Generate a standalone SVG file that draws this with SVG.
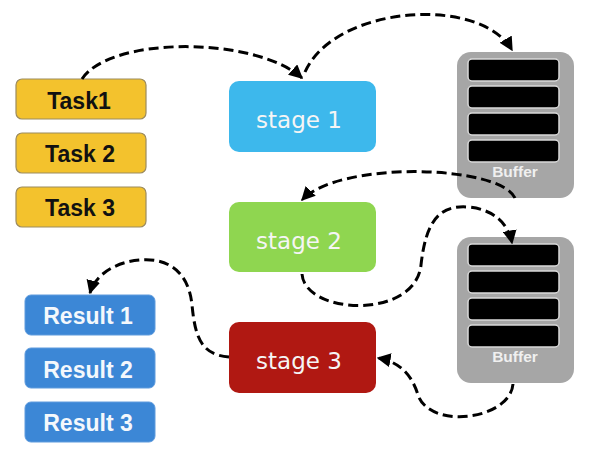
<svg xmlns="http://www.w3.org/2000/svg" width="592" height="468" viewBox="0 0 592 468">
<defs>
<marker id="arr" markerUnits="userSpaceOnUse" markerWidth="14" markerHeight="14" viewBox="0 0 10 10" refX="9" refY="5" orient="auto">
<path d="M0,0 L10,5 L0,10 z" fill="#000"/>
</marker>
<style>
.task rect{fill:#F3C22D;stroke:#9C8B5E;stroke-width:1.2}
.task text{font-family:"Liberation Sans",Arial,sans-serif;font-weight:bold;font-size:23px;fill:#111;text-anchor:middle}
.res rect{fill:#3C87D6;stroke:#5F9BDD;stroke-width:1}
.res text{font-family:"Liberation Sans",Arial,sans-serif;font-weight:bold;font-size:23px;fill:#F4F8FC;text-anchor:middle}
.stage text{font-family:"DejaVu Sans",Verdana,sans-serif;font-size:23px;fill:#F5F5F5;text-anchor:middle}
.buf .body{fill:#A6A6A6}
.buf .bar{fill:#000;stroke:#D9D9D9;stroke-width:1.5}
.buf text{font-family:"Liberation Sans",Arial,sans-serif;font-weight:bold;font-size:15.5px;fill:#F0F0F0;text-anchor:middle}
.conn path{fill:none;stroke:#000;stroke-width:3;stroke-dasharray:10 5;marker-end:url(#arr)}
</style>
</defs>
<rect width="592" height="468" fill="#fff"/>

<g id="task1" class="task"><rect x="16" y="79" width="130" height="40" rx="6"/><text x="79" y="109">Task1</text></g>
<g id="task2" class="task"><rect x="16" y="133" width="130" height="40" rx="6"/><text x="80" y="162">Task 2</text></g>
<g id="task3" class="task"><rect x="16" y="187" width="130" height="40" rx="6"/><text x="80" y="216">Task 3</text></g>

<g id="stage1" class="stage"><rect x="229" y="81" width="147" height="71" rx="10" fill="#3DB8EC"/><text x="299" y="128">stage 1</text></g>
<g id="stage2" class="stage"><rect x="229" y="202" width="147" height="70" rx="10" fill="#8FD650"/><text x="299" y="249">stage 2</text></g>
<g id="stage3" class="stage"><rect x="229" y="322" width="147" height="71" rx="10" fill="#B01812"/><text x="299" y="369">stage 3</text></g>

<g id="buffer1" class="buf">
<rect class="body" x="457" y="52" width="117" height="146" rx="14"/>
<rect class="bar" x="468" y="59" width="91" height="22" rx="4"/>
<rect class="bar" x="468" y="86" width="91" height="22" rx="4"/>
<rect class="bar" x="468" y="113" width="91" height="22" rx="4"/>
<rect class="bar" x="468" y="140" width="91" height="22" rx="4"/>
<text x="515" y="177">Buffer</text>
</g>
<g id="buffer2" class="buf">
<rect class="body" x="457" y="237" width="117" height="146" rx="14"/>
<rect class="bar" x="468" y="244" width="91" height="22" rx="4"/>
<rect class="bar" x="468" y="271" width="91" height="22" rx="4"/>
<rect class="bar" x="468" y="298" width="91" height="22" rx="4"/>
<rect class="bar" x="468" y="325" width="91" height="22" rx="4"/>
<text x="515" y="362">Buffer</text>
</g>

<g id="result1" class="res"><rect x="25" y="295" width="130" height="40" rx="6"/><text x="88" y="324">Result 1</text></g>
<g id="result2" class="res"><rect x="25" y="348" width="130" height="40" rx="6"/><text x="88" y="378">Result 2</text></g>
<g id="result3" class="res"><rect x="25" y="402" width="130" height="40" rx="6"/><text x="88" y="431">Result 3</text></g>

<g id="connectors" class="conn">
<path d="M82 79 C110 36 255 36 302 78"/>
<path d="M305 72 C335 5 480 -5 512 50"/>
<path d="M515 198 C500 165 340 160 302 200"/>
<path d="M302 274 C305 315 415 320 421 265 C426 220 440 205 468 207 C492 209 508 222 512 243"/>
<path d="M513 384 C510 420 430 430 418 395 C412 375 400 362 378 358"/>
<path d="M229 357 C200 355 195 335 192 305 C188 265 160 258 140 260 C115 262 95 275 90 293"/>
</g>
</svg>
